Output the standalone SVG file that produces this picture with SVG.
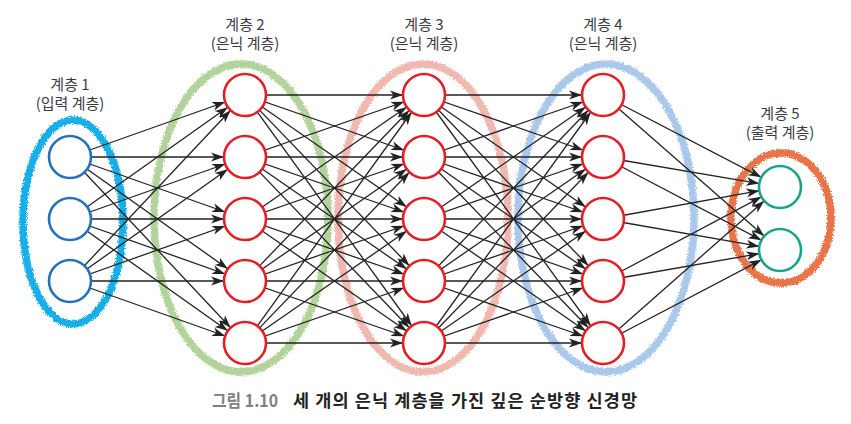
<svg xmlns="http://www.w3.org/2000/svg" width="851" height="424" viewBox="0 0 851 424">
<style>
.t{font-family:"Noto Sans CJK KR","Noto Sans",sans-serif;font-size:15px;fill:#3a3a44;text-anchor:middle}
.cap{font-family:"Noto Sans CJK KR","Noto Sans",sans-serif;font-size:17.5px;font-weight:bold}
.c line{stroke:#222;stroke-width:1.3;marker-end:url(#a)}
.ring{fill:none;stroke-width:7.5}
.n{fill:#fff;stroke-width:2.6}
.in{stroke:#2271b9}
.hid{stroke:#e31e26}
.out{stroke:#16a48a}
</style>
<defs>
<marker id="a" markerUnits="userSpaceOnUse" markerWidth="36" markerHeight="9" refX="34" refY="4.5" orient="auto" overflow="visible">
<path d="M0,0 L13,4.5 L0,9 L3.5,4.5 Z" fill="#222"/>
</marker>
<filter id="rough" x="-10%" y="-10%" width="120%" height="120%">
<feTurbulence type="fractalNoise" baseFrequency="0.9" numOctaves="2" seed="3" result="n"/>
<feDisplacementMap in="SourceGraphic" in2="n" scale="5" xChannelSelector="R" yChannelSelector="G"/>
</filter>
</defs>
<g id="rings" filter="url(#rough)">
<ellipse class="ring" cx="73" cy="222" rx="50" ry="102" stroke="#19afe9"/>
<ellipse class="ring" cx="241" cy="218" rx="87" ry="154" stroke="#b2d49c"/>
<ellipse class="ring" cx="423" cy="218" rx="85" ry="154" stroke="#f1b8b0"/>
<ellipse class="ring" cx="606" cy="218" rx="88" ry="154" stroke="#a9c8eb"/>
<ellipse class="ring" cx="781" cy="218" rx="50" ry="65" stroke="#e8744a"/>
</g>
<g id="connectors" class="c">
<line x1="70" y1="157" x2="245" y2="95"/><line x1="70" y1="157" x2="245" y2="157"/><line x1="70" y1="157" x2="245" y2="219"/><line x1="70" y1="157" x2="245" y2="281"/><line x1="70" y1="157" x2="245" y2="343"/>
<line x1="70" y1="219" x2="245" y2="95"/><line x1="70" y1="219" x2="245" y2="157"/><line x1="70" y1="219" x2="245" y2="219"/><line x1="70" y1="219" x2="245" y2="281"/><line x1="70" y1="219" x2="245" y2="343"/>
<line x1="70" y1="281" x2="245" y2="95"/><line x1="70" y1="281" x2="245" y2="157"/><line x1="70" y1="281" x2="245" y2="219"/><line x1="70" y1="281" x2="245" y2="281"/><line x1="70" y1="281" x2="245" y2="343"/>
<line x1="245" y1="95" x2="424" y2="95"/><line x1="245" y1="95" x2="424" y2="157"/><line x1="245" y1="95" x2="424" y2="219"/><line x1="245" y1="95" x2="424" y2="281"/><line x1="245" y1="95" x2="424" y2="343"/>
<line x1="245" y1="157" x2="424" y2="95"/><line x1="245" y1="157" x2="424" y2="157"/><line x1="245" y1="157" x2="424" y2="219"/><line x1="245" y1="157" x2="424" y2="281"/><line x1="245" y1="157" x2="424" y2="343"/>
<line x1="245" y1="219" x2="424" y2="95"/><line x1="245" y1="219" x2="424" y2="157"/><line x1="245" y1="219" x2="424" y2="219"/><line x1="245" y1="219" x2="424" y2="281"/><line x1="245" y1="219" x2="424" y2="343"/>
<line x1="245" y1="281" x2="424" y2="95"/><line x1="245" y1="281" x2="424" y2="157"/><line x1="245" y1="281" x2="424" y2="219"/><line x1="245" y1="281" x2="424" y2="281"/><line x1="245" y1="281" x2="424" y2="343"/>
<line x1="245" y1="343" x2="424" y2="95"/><line x1="245" y1="343" x2="424" y2="157"/><line x1="245" y1="343" x2="424" y2="219"/><line x1="245" y1="343" x2="424" y2="281"/><line x1="245" y1="343" x2="424" y2="343"/>
<line x1="424" y1="95" x2="603" y2="95"/><line x1="424" y1="95" x2="603" y2="157"/><line x1="424" y1="95" x2="603" y2="219"/><line x1="424" y1="95" x2="603" y2="281"/><line x1="424" y1="95" x2="603" y2="343"/>
<line x1="424" y1="157" x2="603" y2="95"/><line x1="424" y1="157" x2="603" y2="157"/><line x1="424" y1="157" x2="603" y2="219"/><line x1="424" y1="157" x2="603" y2="281"/><line x1="424" y1="157" x2="603" y2="343"/>
<line x1="424" y1="219" x2="603" y2="95"/><line x1="424" y1="219" x2="603" y2="157"/><line x1="424" y1="219" x2="603" y2="219"/><line x1="424" y1="219" x2="603" y2="281"/><line x1="424" y1="219" x2="603" y2="343"/>
<line x1="424" y1="281" x2="603" y2="95"/><line x1="424" y1="281" x2="603" y2="157"/><line x1="424" y1="281" x2="603" y2="219"/><line x1="424" y1="281" x2="603" y2="281"/><line x1="424" y1="281" x2="603" y2="343"/>
<line x1="424" y1="343" x2="603" y2="95"/><line x1="424" y1="343" x2="603" y2="157"/><line x1="424" y1="343" x2="603" y2="219"/><line x1="424" y1="343" x2="603" y2="281"/><line x1="424" y1="343" x2="603" y2="343"/>
<line x1="603" y1="95" x2="780" y2="187"/><line x1="603" y1="95" x2="780" y2="250"/>
<line x1="603" y1="157" x2="780" y2="187"/><line x1="603" y1="157" x2="780" y2="250"/>
<line x1="603" y1="219" x2="780" y2="187"/><line x1="603" y1="219" x2="780" y2="250"/>
<line x1="603" y1="281" x2="780" y2="187"/><line x1="603" y1="281" x2="780" y2="250"/>
<line x1="603" y1="343" x2="780" y2="187"/><line x1="603" y1="343" x2="780" y2="250"/>
</g>
<g id="layer1">
<text class="t" x="70" y="90">계층 1</text>
<text class="t" x="70" y="109">(입력 계층)</text>
<circle class="n in" cx="70" cy="157" r="21"/>
<circle class="n in" cx="70" cy="219" r="21"/>
<circle class="n in" cx="70" cy="281" r="21"/>
</g>
<g id="layer2">
<text class="t" x="245" y="30">계층 2</text>
<text class="t" x="245" y="49">(은닉 계층)</text>
<circle class="n hid" cx="245" cy="95" r="21"/>
<circle class="n hid" cx="245" cy="157" r="21"/>
<circle class="n hid" cx="245" cy="219" r="21"/>
<circle class="n hid" cx="245" cy="281" r="21"/>
<circle class="n hid" cx="245" cy="343" r="21"/>
</g>
<g id="layer3">
<text class="t" x="424" y="30">계층 3</text>
<text class="t" x="424" y="49">(은닉 계층)</text>
<circle class="n hid" cx="424" cy="95" r="21"/>
<circle class="n hid" cx="424" cy="157" r="21"/>
<circle class="n hid" cx="424" cy="219" r="21"/>
<circle class="n hid" cx="424" cy="281" r="21"/>
<circle class="n hid" cx="424" cy="343" r="21"/>
</g>
<g id="layer4">
<text class="t" x="603" y="30">계층 4</text>
<text class="t" x="603" y="49">(은닉 계층)</text>
<circle class="n hid" cx="603" cy="95" r="21"/>
<circle class="n hid" cx="603" cy="157" r="21"/>
<circle class="n hid" cx="603" cy="219" r="21"/>
<circle class="n hid" cx="603" cy="281" r="21"/>
<circle class="n hid" cx="603" cy="343" r="21"/>
</g>
<g id="layer5">
<text class="t" x="780" y="119">계층 5</text>
<text class="t" x="780" y="138">(출력 계층)</text>
<circle class="n out" cx="780" cy="187" r="21"/>
<circle class="n out" cx="780" cy="250" r="21"/>
</g>
<g id="caption">
<text class="cap" x="212" y="407" fill="#808080" textLength="66" lengthAdjust="spacingAndGlyphs">그림 1.10</text>
<text class="cap" x="293" y="407" fill="#222" textLength="344" lengthAdjust="spacing">세 개의 은닉 계층을 가진 깊은 순방향 신경망</text>
</g>
</svg>
